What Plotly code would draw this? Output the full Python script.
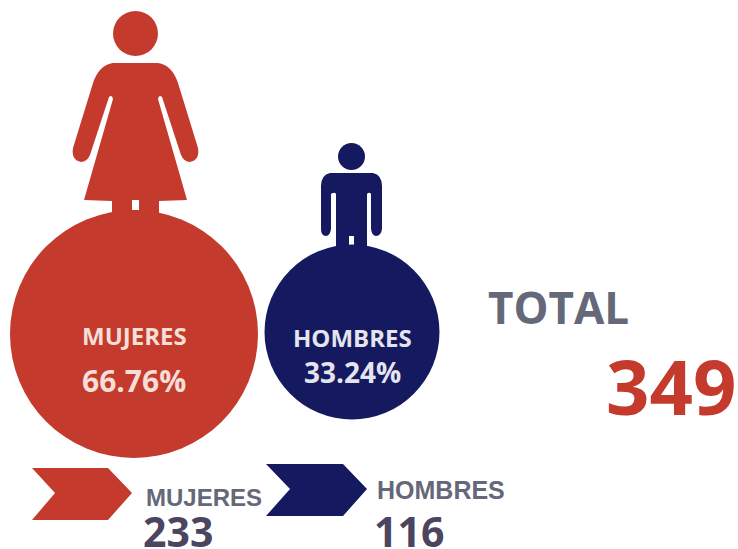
import plotly.graph_objects as go

# Data
categories = ["MUJERES", "HOMBRES"]
counts = [233, 116]
percent_labels = ["66.76%", "33.24%"]
total_label = "TOTAL"
total_value = 349

RED = "#c43b2d"
NAVY = "#15195f"
GREY = "#646879"
DARK = "#4b4560"
FONT = "Open Sans"
ARIAL = "Liberation Sans"


def poly(points):
    return "M " + " L ".join(f"{x} {y}" for x, y in points) + " Z"


def circle_shape(cx, cy, r, color):
    return dict(type="circle", xref="x", yref="y", x0=cx - r, x1=cx + r, y0=cy - r, y1=cy + r,
                fillcolor=color, line_width=0, layer="below")


def path_shape(path, color):
    return dict(type="path", xref="x", yref="y", path=path, fillcolor=color, line_width=0, layer="below")


woman_path = (
    "M 113 63 L 158 63 Q 172 65 178 83 L 198 148 Q 200 160 190 162 Q 184 162 181 155 "
    "L 162 97 Q 159 94 158 99 L 187 200 L 159 201 L 159 216 L 112 216 L 112 201 L 84 200 "
    "L 113 99 Q 112 94 109 97 L 90 155 Q 87 162 81 162 Q 71 160 73 148 L 93 83 Q 99 65 113 63 Z"
)
woman_gap = "M 132 200 L 139 200 L 139 210 L 132 210 Z"
man_path = (
    "M 330 173 L 373 173 Q 382 175 382 186 L 382 229 Q 381 236 376 236 Q 372 236 371 229 "
    "L 371 194 Q 370 192 368 193 L 367 194 L 367 255 L 336 255 L 336 194 Q 335 192 333 193 Q 332 193 331 194 "
    "L 331 229 Q 330 236 326 236 Q 321 236 321 229 L 321 186 Q 321 175 330 173 Z"
)
man_gap = "M 349 236 L 354 236 L 354 246 L 349 246 Z"
chevron_red = [(32, 468), (108, 468), (132, 493), (108, 520), (32, 520), (55, 493)]
chevron_navy = [(266, 464), (343, 464), (367, 489), (343, 516), (266, 516), (290, 489)]

fig = go.Figure()
fig.add_trace(go.Scatter(
    x=[134, 352], y=[334, 332], mode="markers",
    marker=dict(size=counts, sizemode="area", sizeref=2 * 233 / 248 ** 2, color=[RED, NAVY],
                line_width=0, opacity=1),
    customdata=categories, hoverinfo="skip", showlegend=False,
))

shapes = [
    circle_shape(135.5, 33.5, 22.5, RED),
    path_shape(woman_path, RED),
    path_shape(woman_gap, "#ffffff"),
    circle_shape(351.5, 156.5, 13.5, NAVY),
    path_shape(man_path, NAVY),
    path_shape(man_gap, "#ffffff"),
    path_shape(poly(chevron_red), RED),
    path_shape(poly(chevron_navy), NAVY),
]


def label(x, y, text, size, color, family=FONT, anchor="center"):
    return dict(x=x, y=y, xref="x", yref="y", text=f"<b>{text}</b>", showarrow=False, xanchor=anchor,
                yanchor="middle", font=dict(family=family, size=size, color=color))


annotations = [
    label(134, 335, categories[0], 24, "#f6ded8"),
    label(134, 380, percent_labels[0], 30, "#f6ded8"),
    label(352, 337, categories[1], 24, "#e4e4ee"),
    label(352, 372, percent_labels[1], 28, "#e4e4ee"),
    label(558, 307, total_label, 44, GREY),
    label(671, 385, str(total_value), 76, RED),
    label(204, 497, categories[0], 24, GREY, ARIAL),
    label(178, 531, str(counts[0]), 41, DARK),
    label(441, 490, categories[1], 25, GREY, ARIAL),
    label(409, 531, str(counts[1]), 41, DARK),
]

fig.update_layout(
    width=738, height=549, margin=dict(l=0, r=0, t=0, b=0),
    paper_bgcolor="white", plot_bgcolor="white",
    xaxis=dict(range=[0, 738], visible=False, fixedrange=True),
    yaxis=dict(range=[549, 0], visible=False, fixedrange=True),
    shapes=shapes, annotations=annotations,
)
fig.write_html("out.html", config={"displayModeBar": False},
               post_script="document.body.style.margin='0';document.body.style.overflow='hidden';")
